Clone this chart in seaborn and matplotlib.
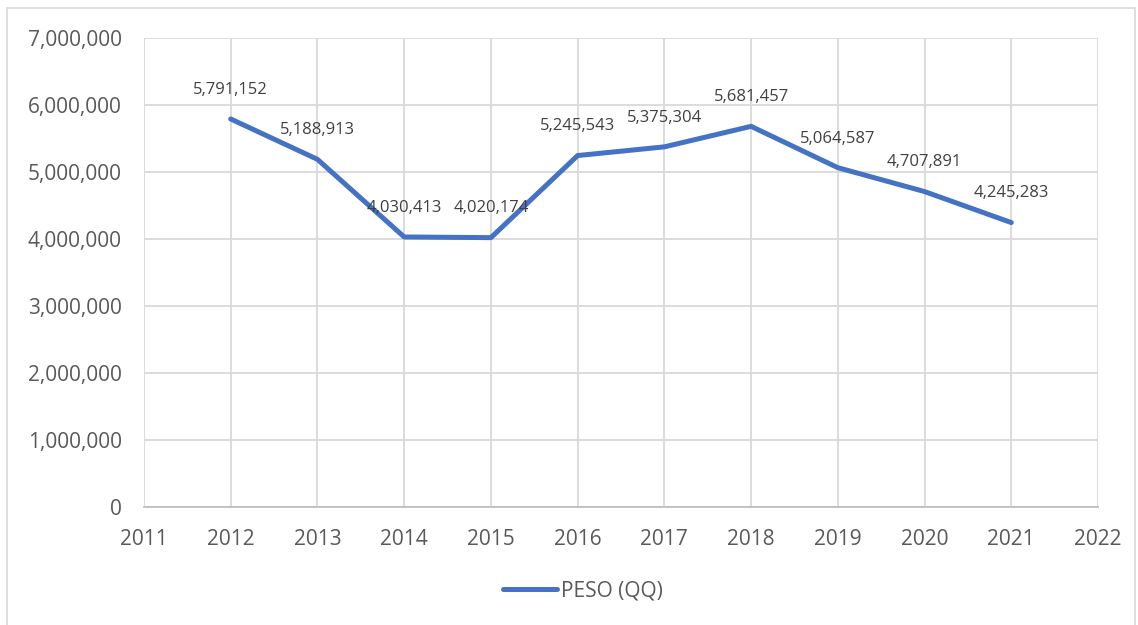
import pandas as pd
import matplotlib.pyplot as plt
import matplotlib.ticker as mticker
from matplotlib.patches import Rectangle
import seaborn as sns

# --- Data ---
years = [2012, 2013, 2014, 2015, 2016, 2017, 2018, 2019, 2020, 2021]
peso_qq = [5791152, 5188913, 4030413, 4020174, 5245543, 5375304, 5681457, 5064587, 4707891, 4245283]
series_name = "PESO (QQ)"

df = pd.DataFrame({"Año": years, series_name: peso_qq})

sns.set_style("white")
plt.rcParams['font.family'] = ['Open Sans', 'DejaVu Sans']

text_color = "#595959"
grid_color = "#D9D9D9"
line_color = "#4472C4"

fig = plt.figure(figsize=(11.38, 6.25), dpi=100)
ax = fig.add_axes([144 / 1138, 1 - 507 / 625, (1098 - 144) / 1138, (507 - 38) / 625])

# outer chart border
fig.patches.append(Rectangle((7 / 1138, -0.05), (1135 - 7) / 1138, 1.05 - 8 / 625,
                             transform=fig.transFigure, fill=False,
                             edgecolor="#D9D9D9", linewidth=1.2))

sns.lineplot(data=df, x="Año", y=series_name, ax=ax, color=line_color,
             linewidth=3.6, label=series_name, solid_capstyle="round")

# data labels
for x, y in zip(years, peso_qq):
    ax.annotate(f"{y:,}", (x, y), xytext=(0, 21), textcoords="offset points",
                ha="center", va="center", fontsize=12, color="#404040")

ax.set_xlim(2011, 2022)
ax.set_ylim(0, 7000000)
ax.set_xticks(range(2011, 2023))
ax.set_yticks(range(0, 7000001, 1000000))
ax.yaxis.set_major_formatter(mticker.FuncFormatter(lambda v, p: f"{int(v):,}"))
ax.grid(True, color=grid_color, linewidth=1.3)
ax.set_axisbelow(True)
for s in ["top", "right", "left"]:
    ax.spines[s].set_visible(False)
ax.spines["bottom"].set_color("#BFBFBF")
ax.spines["bottom"].set_linewidth(1.3)
ax.tick_params(axis="both", length=0, labelsize=15, labelcolor=text_color)
ax.tick_params(axis="y", pad=16)
ax.tick_params(axis="x", pad=16)
ax.set_xlabel("")
ax.set_ylabel("")

ax.legend(loc="center", bbox_to_anchor=(583 / 1138, (625 - 591) / 625), bbox_transform=fig.transFigure,
          frameon=False, fontsize=15, handlelength=2.6, handletextpad=0.2, labelcolor=text_color)

plt.savefig("out.png", dpi=100)
plt.close()
